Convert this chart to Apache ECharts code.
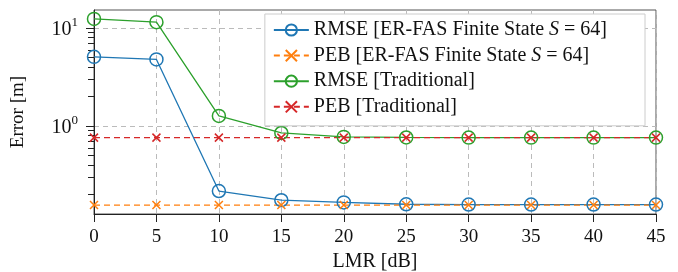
<!DOCTYPE html>
<html><head><meta charset="utf-8">
<script src="https://cdn.jsdelivr.net/npm/echarts@6/dist/echarts.min.js"></script>
<style>html,body{margin:0;padding:0;background:#fff}#c{width:678px;height:272px}</style>
</head><body><div id="c"></div>
<script>
const lmr = [0, 5, 10, 15, 20, 25, 30, 35, 40, 45];
const rmseErfas = [5.09, 4.79, 0.217, 0.175, 0.166, 0.159, 0.158, 0.158, 0.158, 0.158];
const pebErfas  = [0.156, 0.156, 0.156, 0.156, 0.156, 0.156, 0.156, 0.156, 0.156, 0.156];
const rmseTrad  = [12.4, 11.5, 1.27, 0.85, 0.775, 0.765, 0.762, 0.762, 0.762, 0.762];
const pebTrad   = [0.762, 0.762, 0.762, 0.762, 0.762, 0.762, 0.762, 0.762, 0.762, 0.762];
const yMajor = [1, 10];
const yMinor = [0.2,0.3,0.4,0.5,0.6,0.7,0.8,0.9,2,3,4,5,6,7,8,9];
const names = ['RMSE [ER-FAS Finite State S = 64]','PEB [ER-FAS Finite State S = 64]','RMSE [Traditional]','PEB [Traditional]'];

const FONT = '"Liberation Serif", serif';
const xSym = 'path://M0,0L10,10M10,0L0,10';
function pairs(v){ return lmr.map((x,i)=>[x, v[i]]); }
function ser(name, data, color, dashed, sym){
  const isX = sym === 'x';
  return {
    name, type:'line', data: pairs(data),
    symbol: isX ? xSym : 'circle',
    symbolSize: isX ? 8 : 13,
    showAllSymbol: true,
    lineStyle: {color, width: 1.3, type: dashed ? [6,4] : 'solid'},
    itemStyle: {color: isX ? color : 'rgba(0,0,0,0)', borderColor: color, borderWidth: 1.5},
    emphasis: {disabled: true},
    animation: false,
    z: 3
  };
}
const chart = echarts.init(document.getElementById('c'), null, {renderer:'canvas'});
chart.setOption({
  animation: false,
  grid: {left: 94, right: 22, top: 10, bottom: 58, show: true, borderColor: '#555', borderWidth: 1,
         containLabel: false, outerBoundsMode: 'none'},
  legend: {
    right: 33, top: 14, orient: 'vertical',
    backgroundColor: '#fff', borderColor: '#ccc', borderWidth: 1,
    padding: [6, 38, 9, 8], itemGap: 5.6, itemWidth: 35, itemHeight: 14,
    textStyle: {fontFamily: FONT, fontSize: 20, color: '#111',
      rich: {i: {fontFamily: FONT, fontSize: 20, fontStyle: 'italic', color:'#111'}}},
    formatter: function(n){ return n.replace(' S = ', ' {i|S} = '); },
    data: names
  },
  xAxis: {
    type: 'value', min: 0, max: 45, interval: 5,
    name: 'LMR [dB]', nameLocation: 'middle', nameGap: 36,
    nameTextStyle: {fontFamily: FONT, fontSize: 20, color: '#111'},
    axisLine: {show: true, onZero: false, lineStyle: {color: '#222', width: 1}},
    axisTick: {show: true, inside: false, length: 8, lineStyle: {color:'#222'}},
    axisLabel: {fontFamily: FONT, fontSize: 19, color: '#111', margin: 14},
    splitLine: {show: true, lineStyle: {color: '#bbb', type: [5,4], width: 1}}
  },
  yAxis: [{
    type: 'log', logBase: 10, min: 0.1265, max: 15.3,
    name: 'Error [m]', nameLocation: 'middle', nameGap: 66, nameRotate: 90,
    nameTextStyle: {fontFamily: FONT, fontSize: 19, color: '#111'},
    axisLine: {show: true, onZero: false, lineStyle: {color: '#222', width: 1}},
    axisTick: {show: true, inside: false, length: 8, customValues: yMajor, lineStyle: {color:'#222'}},
    axisLabel: {customValues: yMajor, margin: 16,
      formatter: function(v){ return '{b|10}{s|' + Math.round(Math.log10(v)) + '}'; },
      rich: {b: {fontFamily: FONT, fontSize: 20, color: '#111', padding: [4,0,0,0]},
             s: {fontFamily: FONT, fontSize: 13, color: '#111', verticalAlign:'top', padding: [0,0,10,0]}}},
    splitLine: {show: true, lineStyle: {color: '#bbb', type: [5,4], width: 1}},
    minorTick: {show: false}
  },{
    type: 'log', logBase: 10, min: 0.1265, max: 15.3, position: 'left', gridIndex: 0,
    axisLine: {show: false},
    axisTick: {show: true, inside: false, length: 6, customValues: yMinor, lineStyle: {color:'#222'}},
    axisLabel: {show: false},
    splitLine: {show: false}
  }],
  series: [
    ser(names[0], rmseErfas, '#1f77b4', false, 'o'),
    ser(names[1], pebErfas, '#ff7f0e', true, 'x'),
    ser(names[2], rmseTrad, '#2ca02c', false, 'o'),
    ser(names[3], pebTrad, '#d62728', true, 'x')
  ]
});
</script></body></html>
